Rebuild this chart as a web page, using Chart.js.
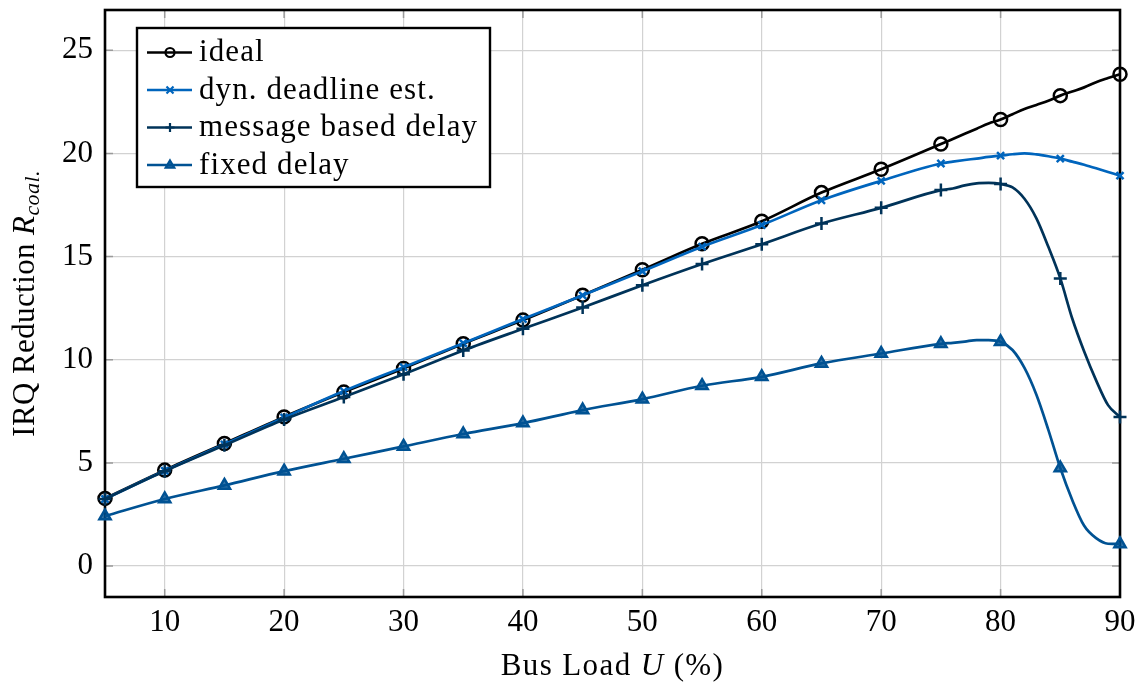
<!DOCTYPE html>
<html>
<head>
<meta charset="utf-8">
<script src="https://cdn.jsdelivr.net/npm/chart.js@4"></script>
<style>
  body { margin: 0; background: #fff; }
</style>
</head>
<body>
<canvas id="irqChart" width="1142" height="686"></canvas>
<script>
// bus load in %, markers only at multiples of 5
const busLoad = [5, 10, 15, 20, 25, 30, 35, 40, 45, 50, 55, 60, 65, 70, 75, 76, 77, 78, 79, 80, 81, 82, 83, 84, 85, 86, 87, 88, 89, 90];

const ideal = [3.28, 4.65, 5.94, 7.23, 8.43, 9.58, 10.78, 11.92, 13.13, 14.36, 15.62, 16.71, 18.1, 19.23, 20.45, 20.7, 20.95, 21.2, 21.45, 21.64, 21.9, 22.15, 22.35, 22.55, 22.8, 23.0, 23.2, 23.45, 23.65, 23.84];
const dynDeadline = [3.25, 4.62, 5.9, 7.2, 8.48, 9.64, 10.8, 11.97, 13.12, 14.29, 15.48, 16.53, 17.73, 18.67, 19.51, 19.6, 19.68, 19.75, 19.83, 19.89, 19.96, 20.0, 19.95, 19.86, 19.75, 19.6, 19.45, 19.28, 19.1, 18.92];
const messageDelay = [3.25, 4.6, 5.85, 7.1, 8.19, 9.3, 10.45, 11.5, 12.53, 13.61, 14.64, 15.6, 16.6, 17.36, 18.22, 18.3, 18.45, 18.55, 18.57, 18.52, 18.35, 17.8, 16.85, 15.47, 13.94, 12.0, 10.4, 9.0, 7.8, 7.22];
const fixedDelay = [2.42, 3.25, 3.91, 4.6, 5.2, 5.8, 6.4, 6.93, 7.56, 8.09, 8.74, 9.17, 9.82, 10.3, 10.77, 10.82, 10.88, 10.95, 10.95, 10.87, 10.47, 9.6, 8.3, 6.6, 4.75, 3.2, 1.95, 1.35, 1.08, 1.07];

const xTicks = [10, 20, 30, 40, 50, 60, 70, 80, 90];
const yTicks = [0, 5, 10, 15, 20, 25];

const serif = '"Liberation Serif", "Times New Roman", serif';

function pts(values) {
  return busLoad.map((x, i) => ({ x: x, y: values[i] }));
}
function markerSize(r) {
  return (c) => (busLoad[c.dataIndex] % 5 === 0 ? r : 0);
}

const series = [
  { label: "ideal", data: ideal, color: "#000000", style: "circle", r: 6.5, fill: "rgba(255,255,255,0)" },
  { label: "dyn. deadline est.", data: dynDeadline, color: "#0065bd", style: "crossRot", r: 5, fill: "#0065bd" },
  { label: "message based delay", data: messageDelay, color: "#003359", style: "cross", r: 6.5, fill: "#003359" },
  { label: "fixed delay", data: fixedDelay, color: "#005293", style: "triangle", r: 6.5, fill: "rgba(0,82,147,0.8)" },
];

// simple marker drawing for the legend
function drawMarker(ctx, style, x, y, r, color, fill) {
  ctx.save();
  ctx.strokeStyle = color;
  ctx.fillStyle = fill;
  ctx.lineWidth = 2.2;
  ctx.beginPath();
  if (style === "circle") {
    ctx.arc(x, y, r, 0, Math.PI * 2);
    ctx.fill();
    ctx.stroke();
  } else if (style === "crossRot") {
    ctx.moveTo(x - r, y - r); ctx.lineTo(x + r, y + r);
    ctx.moveTo(x - r, y + r); ctx.lineTo(x + r, y - r);
    ctx.stroke();
  } else if (style === "cross") {
    ctx.moveTo(x - r, y); ctx.lineTo(x + r, y);
    ctx.moveTo(x, y - r); ctx.lineTo(x, y + r);
    ctx.stroke();
  } else if (style === "triangle") {
    ctx.moveTo(x, y - r);
    ctx.lineTo(x + r * 0.95, y + r * 0.6);
    ctx.lineTo(x - r * 0.95, y + r * 0.6);
    ctx.closePath();
    ctx.fill();
    ctx.stroke();
  }
  ctx.restore();
}

// text made of runs with different fonts, centred on x
function drawRuns(ctx, runs, x, y) {
  let total = 0;
  runs.forEach((r) => { ctx.font = r.font; total += ctx.measureText(r.text).width; });
  let cx = x - total / 2;
  runs.forEach((r) => {
    ctx.font = r.font;
    ctx.fillText(r.text, cx, y + (r.dy || 0));
    cx += ctx.measureText(r.text).width;
  });
}

const framePlugin = {
  id: "frame",
  beforeDatasetsDraw(chart) {
    const a = chart.chartArea;
    const ctx = chart.ctx;
    ctx.save();
    // small inner tick marks like pgfplots
    ctx.strokeStyle = "#9a9a9a";
    ctx.lineWidth = 1.5;
    ctx.beginPath();
    yTicks.forEach((v) => {
      const py = chart.scales.y.getPixelForValue(v);
      ctx.moveTo(a.left, py); ctx.lineTo(a.left + 8, py);
      ctx.moveTo(a.right, py); ctx.lineTo(a.right - 8, py);
    });
    xTicks.forEach((v) => {
      const px = chart.scales.x.getPixelForValue(v);
      ctx.moveTo(px, a.bottom); ctx.lineTo(px, a.bottom - 8);
      ctx.moveTo(px, a.top); ctx.lineTo(px, a.top + 8);
    });
    ctx.stroke();
    ctx.strokeStyle = "#000";
    ctx.lineWidth = 2.6;
    ctx.strokeRect(a.left, a.top, a.right - a.left, a.bottom - a.top);
    ctx.restore();
  },
};

const textPlugin = {
  id: "texts",
  afterDraw(chart) {
    const ctx = chart.ctx;
    const a = chart.chartArea;
    ctx.save();
    ctx.fillStyle = "#000";
    ctx.textBaseline = "alphabetic";
    ctx.letterSpacing = "1.4px";
    // x axis title
    drawRuns(ctx, [
      { text: "Bus Load ", font: "31px " + serif },
      { text: "U", font: "italic 31px " + serif },
      { text: " (%)", font: "31px " + serif },
    ], (a.left + a.right) / 2, 675);
    // y axis title
    ctx.letterSpacing = "0.4px";
    ctx.save();
    ctx.translate(34, (a.top + a.bottom) / 2);
    ctx.rotate(-Math.PI / 2);
    drawRuns(ctx, [
      { text: "IRQ Reduction ", font: "31px " + serif },
      { text: "R", font: "italic 31px " + serif },
      { text: "coal.", font: "italic 22px " + serif, dy: 5 },
    ], 0, 0);
    ctx.restore();

    // legend
    ctx.fillStyle = "#fff";
    ctx.fillRect(137, 28, 353, 159);
    ctx.strokeStyle = "#000";
    ctx.lineWidth = 2.4;
    ctx.strokeRect(137, 28, 353, 159);
    ctx.font = "31px " + serif;
    ctx.letterSpacing = "1.1px";
    series.forEach((s, i) => {
      const base = 61 + i * 37.5;
      const ly = base - 8.5;
      ctx.strokeStyle = s.color;
      ctx.lineWidth = 2.6;
      ctx.beginPath();
      ctx.moveTo(147, ly);
      ctx.lineTo(192, ly);
      ctx.stroke();
      drawMarker(ctx, s.style, 170, ly, s.style === "crossRot" ? 3.5 : 4.5, s.color, s.fill);
      ctx.fillStyle = "#000";
      ctx.fillText(s.label, 199, base);
    });
    ctx.restore();
  },
};

const datasets = series.map((s, i) => ({
  label: s.label,
  data: pts(s.data),
  borderColor: s.color,
  backgroundColor: s.fill,
  borderWidth: 2.7,
  pointStyle: s.style,
  pointRadius: markerSize(s.r),
  pointBorderWidth: 2.5,
  pointBackgroundColor: s.fill,
  pointBorderColor: s.color,
  cubicInterpolationMode: "monotone",
  clip: false,
  order: 4 - i,
}));

const config = {
  type: "line",
  data: { datasets: datasets },
  options: {
    responsive: false,
    animation: false,
    events: [],
    layout: { padding: { top: 10, right: 22, bottom: 0, left: 0 } },
    plugins: {
      legend: { display: false },
      tooltip: { enabled: false },
    },
    scales: {
      x: {
        type: "linear",
        min: 5,
        max: 90,
        afterBuildTicks: (scale) => { scale.ticks = xTicks.map((v) => ({ value: v })); },
        afterFit: (scale) => { scale.height = 89; scale.paddingLeft = 0; scale.paddingRight = 0; },
        ticks: { color: "#000", padding: 7, maxRotation: 0, font: { family: serif, size: 31 } },
        grid: { color: "#d2d2d2", lineWidth: 1.2, drawTicks: false },
        border: { display: false },
      },
      y: {
        min: -1.5,
        max: 26.95,
        afterBuildTicks: (scale) => { scale.ticks = yTicks.map((v) => ({ value: v })); },
        afterFit: (scale) => { scale.width = 105; scale.paddingTop = 0; scale.paddingBottom = 0; },
        ticks: { color: "#000", padding: 12, font: { family: serif, size: 31 } },
        grid: { color: "#d2d2d2", lineWidth: 1.2, drawTicks: false },
        border: { display: false },
      },
    },
  },
  plugins: [framePlugin, textPlugin],
};

const irqChart = new Chart(document.getElementById("irqChart"), config);
</script>
</body>
</html>
